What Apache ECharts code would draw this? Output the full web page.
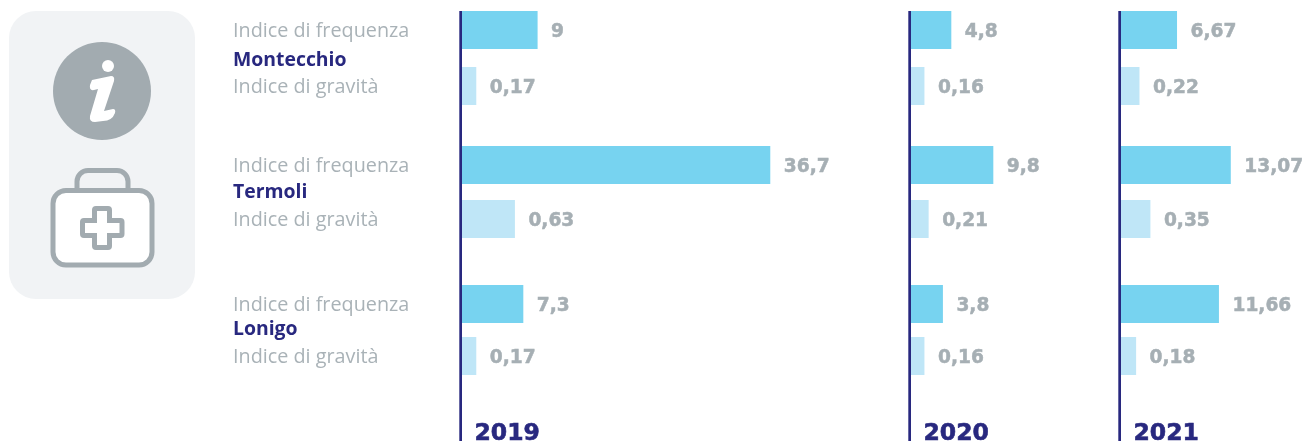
<!DOCTYPE html>
<html>
<head>
<meta charset="utf-8">
<style>html,body{margin:0;padding:0;background:#fff}#chart{width:1304px;height:441px}</style>
<script src="https://cdn.jsdelivr.net/npm/echarts@6/dist/echarts.min.js"></script>
</head>
<body>
<div id="chart"></div>
<script>
const years = ['2019', '2020', '2021'];
const sites = ['Montecchio', 'Termoli', 'Lonigo'];
const measures = ['Indice di frequenza', 'Indice di gravità'];
// one row per site, one column per year
const frequency = [
  [9, 4.8, 6.67],
  [36.7, 9.8, 13.07],
  [7.3, 3.8, 11.66]
];
const severity = [
  [0.17, 0.16, 0.22],
  [0.63, 0.21, 0.35],
  [0.17, 0.16, 0.18]
];

const NAVY = '#28287f', GREY = '#a6afb4', FREQ = '#77d3f0', SEV = '#bfe6f7';
const FONT = '"Open Sans", sans-serif';
const NUM_FONT = '"DejaVu Sans", sans-serif';
const colLeft = [462, 911, 1121];
const colWidth = [400, 190, 175];
const rowTop = [2, 138, 278];
const rowHeight = [112, 108, 104];
const PX_FREQ = 8.4, PX_SEV = 84;

const comma = v => String(v).replace('.', ',');
const grid = [], xAxis = [], yAxis = [], series = [];

rowTop.forEach((top, r) => {
  colLeft.forEach((left, c) => {
    const g = grid.length;
    grid.push({left, top, width: colWidth[c], height: rowHeight[r], outerBoundsMode: 'none'});
    // the two measures sit on different scales within the same panel
    [PX_FREQ, PX_SEV].forEach(k => xAxis.push({
      type: 'value', gridIndex: g, min: 0, max: colWidth[c] / k, show: false
    }));
    yAxis.push({
      type: 'category', gridIndex: g, inverse: true, data: measures,
      axisLine: {show: false}, axisTick: {show: false},
      axisLabel: {
        show: c === 0, color: '#a9b2b7', fontFamily: FONT, fontSize: 19.8,
        align: 'left', margin: 229, verticalAlign: 'top', lineHeight: 3
      }
    });
    [[frequency, FREQ, 0], [severity, SEV, 1]].forEach(([vals, color, m]) => {
      const data = [null, null];
      data[m] = vals[r][c];
      series.push({
        type: 'bar', xAxisIndex: g * 2 + m, yAxisIndex: g,
        data, barWidth: 38, barGap: '-100%', itemStyle: {color},
        label: {
          show: true, position: 'right', distance: 13.5, offset: [0, 2.2],
          formatter: p => comma(p.value),
          color: GREY, fontFamily: NUM_FONT, fontWeight: 'bold', fontSize: 18.6,
          textBorderColor: GREY, textBorderWidth: 0.5
        }
      });
    });
  });
});

// icon outlines for the side panel
echarts.graphic.registerShape('infoGlyph', echarts.graphic.extendPath(
  'M92 80 L111 76 Q115 76 114 81 L104 111 L113 109 Q116 109 115 113 Q112 121 103 121 L95 122 Q89 122 90 116 L98 89 L94 90 Q89 91 90 85 Z'));
echarts.graphic.registerShape('crossGlyph', echarts.graphic.extendPath(
  'M94.5 210 Q94.5 208.5 96 208.5 L108 208.5 Q109.5 208.5 109.5 210 L109.5 220.5 L120.5 220.5 Q122 220.5 122 222 L122 234 Q122 235.5 120.5 235.5 L109.5 235.5 L109.5 246 Q109.5 247.5 108 247.5 L96 247.5 Q94.5 247.5 94.5 246 L94.5 235.5 L84 235.5 Q82.5 235.5 82.5 234 L82.5 222 Q82.5 220.5 84 220.5 L94.5 220.5 Z'));

const iconStroke = '#a2abb0';
const graphic = [
  {type: 'rect', shape: {x: 9, y: 11, width: 186, height: 288, r: 27}, style: {fill: '#f1f3f5'}},
  {type: 'circle', shape: {cx: 102, cy: 91, r: 49}, style: {fill: iconStroke}},
  {type: 'circle', shape: {cx: 108, cy: 66, r: 6}, style: {fill: '#fff'}},
  {type: 'infoGlyph', style: {fill: '#fff'}},
  {type: 'rect', shape: {x: 77, y: 170.5, width: 51, height: 36, r: 11}, style: {fill: 'none', stroke: iconStroke, lineWidth: 5}},
  {type: 'rect', shape: {x: 53, y: 190.5, width: 99, height: 74.5, r: 13}, style: {fill: '#fff', stroke: iconStroke, lineWidth: 5}},
  {type: 'crossGlyph', style: {fill: '#fff', stroke: iconStroke, lineWidth: 5}}
];
// vertical baseline and year caption for each column
colLeft.forEach((left, c) => {
  graphic.push({type: 'rect', shape: {x: left - 2.7, y: 11, width: 2.7, height: 430}, style: {fill: NAVY}});
  graphic.push({type: 'text', x: left + 12.5, y: 433.5, style: {
    text: years[c], fill: NAVY, font: 'bold 23.5px ' + NUM_FONT, verticalAlign: 'middle',
    stroke: NAVY, lineWidth: 0.6
  }});
});
// site names between the two measure labels
[60.5, 192.5, 329.5].forEach((y, r) => graphic.push({type: 'text', x: 233, y, style: {
  text: sites[r], fill: NAVY, font: 'bold 19.4px ' + FONT, verticalAlign: 'middle'
}}));

const chart = echarts.init(document.getElementById('chart'), null, {renderer: 'canvas'});
chart.setOption({animation: false, backgroundColor: '#fff', grid, xAxis, yAxis, series, graphic});
</script>
</body>
</html>
